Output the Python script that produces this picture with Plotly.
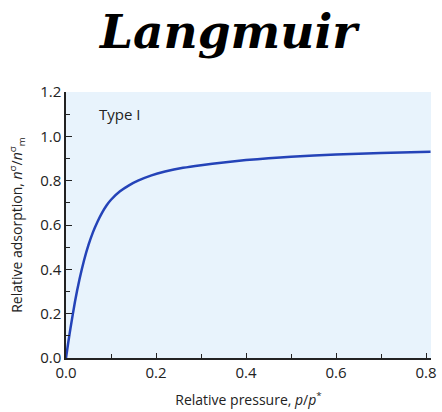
import plotly.graph_objects as go

# Type I (Langmuir) isotherm
rel_pressure = [0, 0.005, 0.01, 0.02, 0.03, 0.04, 0.05, 0.06, 0.07, 0.08, 0.09, 0.10,
                0.12, 0.14, 0.16, 0.19, 0.22, 0.26, 0.30, 0.35, 0.40, 0.45, 0.50,
                0.60, 0.70, 0.81]
rel_adsorption = [0, 0.07, 0.135, 0.255, 0.355, 0.44, 0.51, 0.568, 0.615, 0.655, 0.688,
                  0.714, 0.752, 0.779, 0.800, 0.824, 0.841, 0.858, 0.870, 0.882, 0.893,
                  0.901, 0.908, 0.918, 0.925, 0.93]

x_ticks = [0.0, 0.2, 0.4, 0.6, 0.8]
y_ticks = [0.0, 0.2, 0.4, 0.6, 0.8, 1.0, 1.2]

sans = "Open Sans, Noto Sans, sans-serif"
ink = "#222222"
tick_font = dict(family=sans, size=15, color=ink)

fig = go.Figure()
fig.add_trace(go.Scatter(
    x=rel_pressure, y=rel_adsorption, mode="lines",
    line=dict(color="#2443b8", width=2.5, shape="spline", smoothing=0.6),
    hoverinfo="skip", showlegend=False,
))

fig.update_layout(
    width=442, height=412,
    margin=dict(l=66, r=5, t=92, b=54),
    paper_bgcolor="white",
    plot_bgcolor="#e8f3fc",
    annotations=[
        dict(
            text="<b><i>Langmuir</i></b>", x=0.447, y=1.229, xref="paper", yref="paper",
            xanchor="center", yanchor="middle", showarrow=False,
            font=dict(family="DejaVu Serif, serif", size=47, color="black"),
        ),
        dict(
            text="Type I", x=0.068, y=1.1, xref="x", yref="y",
            xanchor="left", yanchor="middle", showarrow=False,
            font=dict(family=sans, size=15, color=ink),
        ),
    ],
)

fig.update_xaxes(
    range=[0, 0.811], tickvals=x_ticks, ticktext=[f"{v:.1f}" for v in x_ticks],
    ticklabeloverflow="allow",
    showgrid=False, zeroline=False,
    showline=True, linecolor=ink, linewidth=1.5,
    ticks="inside", ticklen=5, tickcolor=ink, tickwidth=1.2,
    minor=dict(tickvals=[0.1, 0.3, 0.5, 0.7], ticks="inside", ticklen=4,
               tickcolor=ink, tickwidth=1.2),
    tickfont=tick_font,
    title=dict(text="Relative pressure, <i>p</i>/<i>p</i><sup>*</sup>",
               font=dict(family=sans, size=14, color=ink),
               standoff=14),
)

fig.update_yaxes(
    range=[0, 1.2], tickvals=y_ticks, ticktext=[f"{v:.1f}" for v in y_ticks],
    showgrid=False, zeroline=False,
    showline=True, linecolor=ink, linewidth=1.5,
    ticks="inside", ticklen=6, tickcolor=ink, tickwidth=1.2,
    minor=dict(tickvals=[0.1, 0.3, 0.5, 0.7, 0.9, 1.1], ticks="inside", ticklen=4,
               tickcolor=ink, tickwidth=1.2),
    tickfont=tick_font,
    title=dict(text="Relative adsorption, <i>n</i><sup>σ</sup>/<i>n</i><sup>σ</sup><sub>m</sub>",
               font=dict(family=sans, size=14, color=ink),
               standoff=14),
)

fig.write_html("out.html")
